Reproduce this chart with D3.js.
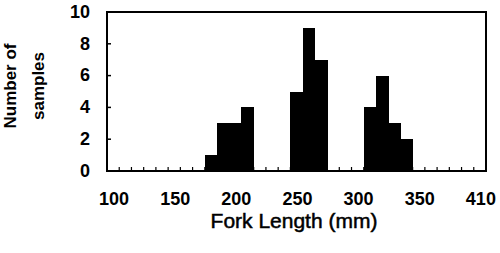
<!DOCTYPE html>
<html>
<head>
<meta charset="utf-8">
<script src="https://cdn.jsdelivr.net/npm/d3@7"></script>
<style>
  body { margin: 0; background: #fff; }
  text { font-family: "Liberation Sans", Arial, sans-serif; font-weight: bold; fill: #000; }
</style>
</head>
<body>
<div id="chart"></div>
<script>
// fork length bins (mm), 10 mm wide
const bins = ["100","110","120","130","140","150","160","170","180","190","200",
  "210","220","230","240","250","260","270","280","290","300",
  "310","320","330","340","350","360","370","380","390","400"];
const counts = [0,0,0,0,0,0,0,0,1,3,3,4,0,0,0,5,9,7,0,0,0,4,6,3,2,0,0,0,0,0,0];
const xTickBins = ["100","150","200","250","300","350","400"];
const xTickLabels = ["100","150","200","250","300","350","410"];
const yTicks = [0, 2, 4, 6, 8, 10];

const width = 500, height = 253;
const margin = { top: 12, right: 14, bottom: 82, left: 107 };

const svg = d3.select("#chart").append("svg")
  .attr("width", width)
  .attr("height", height);

const x = d3.scaleBand()
  .domain(bins)
  .range([margin.left, width - margin.right])
  .padding(0);

const y = d3.scaleLinear()
  .domain([0, 10])
  .range([height - margin.bottom, margin.top]);

// bars
svg.selectAll("rect.bar")
  .data(bins)
  .join("rect")
  .attr("class", "bar")
  .attr("x", d => x(d))
  .attr("y", (d, i) => y(counts[i]))
  .attr("width", x.bandwidth() + 0.5)
  .attr("height", (d, i) => y(0) - y(counts[i]))
  .attr("fill", "#000")
  .attr("shape-rendering", "crispEdges");

// frame
svg.append("rect")
  .attr("x", margin.left)
  .attr("y", margin.top)
  .attr("width", width - margin.left - margin.right)
  .attr("height", height - margin.top - margin.bottom)
  .attr("fill", "none")
  .attr("stroke", "#000")
  .attr("stroke-width", 2);

// minor ticks on bottom at bin edges
svg.selectAll("line.xtick")
  .data(bins.slice(1))
  .join("line")
  .attr("class", "xtick")
  .attr("x1", d => x(d))
  .attr("x2", d => x(d))
  .attr("y1", y(0))
  .attr("y2", y(0) - 4)
  .attr("stroke", "#000")
  .attr("stroke-width", 1.2);

// y ticks pointing inward
svg.selectAll("line.ytick")
  .data(yTicks.slice(1, -1))
  .join("line")
  .attr("class", "ytick")
  .attr("x1", margin.left)
  .attr("x2", margin.left + 4)
  .attr("y1", d => y(d))
  .attr("y2", d => y(d))
  .attr("stroke", "#000")
  .attr("stroke-width", 1.5);

// y tick labels
svg.selectAll("text.ylab")
  .data(yTicks)
  .join("text")
  .attr("class", "ylab")
  .attr("x", 90)
  .attr("y", d => y(d) + 1)
  .attr("text-anchor", "end")
  .attr("dominant-baseline", "middle")
  .attr("font-size", "18px")
  .text(d => d);

// x tick labels
svg.selectAll("text.xlab")
  .data(xTickBins)
  .join("text")
  .attr("class", "xlab")
  .attr("x", d => x(d) + x.bandwidth() / 2 + 1)
  .attr("y", 205)
  .attr("text-anchor", "middle")
  .attr("font-size", "18px")
  .text((d, i) => xTickLabels[i]);

// axis titles
svg.append("text")
  .attr("x", 294)
  .attr("y", 228)
  .attr("text-anchor", "middle")
  .attr("font-size", "21px")
  .style("font-weight", "normal")
  .style("stroke", "#000")
  .style("stroke-width", 0.5)
  .text("Fork Length (mm)");

const yTitle = svg.append("text")
  .attr("transform", "translate(0,86) rotate(-90)")
  .attr("text-anchor", "middle")
  .attr("font-size", "17px");
yTitle.append("tspan").attr("x", 0).attr("y", 16).text("Number of");
yTitle.append("tspan").attr("x", 0).attr("y", 44).text("samples");
</script>
</body>
</html>
